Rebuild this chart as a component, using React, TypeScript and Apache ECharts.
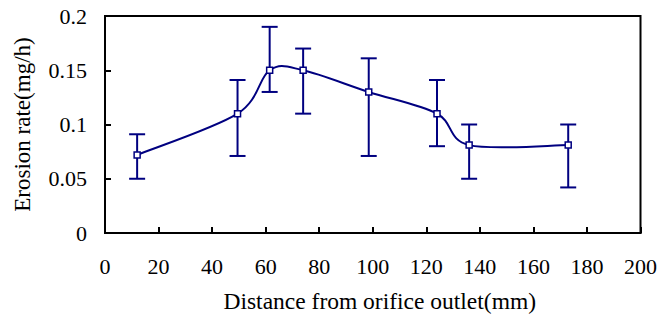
import React, { useEffect, useRef } from "react";
import * as echarts from "echarts";

const xValues = [12, 49.5, 61.5, 74, 98.5, 124, 136, 173];
const yValues = [0.072, 0.11, 0.15, 0.15, 0.13, 0.11, 0.081, 0.081];
const errLow = [0.05, 0.071, 0.13, 0.11, 0.071, 0.08, 0.05, 0.042];
const errHigh = [0.091, 0.141, 0.19, 0.17, 0.161, 0.141, 0.1, 0.1];

const xTitle = "Distance from orifice outlet(mm)";
const yTitle = "Erosion rate(mg/h)";

const NAVY = "#000080";
const FONT = "Liberation Serif";

export default function App() {
  const ref = useRef<HTMLDivElement>(null);
  useEffect(() => {
    if (!ref.current) return;
    const chart = echarts.init(ref.current, undefined, { renderer: "svg" });
    const pointData = xValues.map((x, i) => [x, yValues[i]]);
    const errData = xValues.map((x, i) => [x, errLow[i], errHigh[i]]);
    const n = xValues.length;
    chart.setOption({
      animation: false,
      backgroundColor: "#fff",
      grid: {
        left: 105,
        top: 16,
        right: 19,
        bottom: 92,
        show: true,
        borderColor: "#000",
        borderWidth: 2,
        backgroundColor: "transparent",
      },
      xAxis: {
        type: "value",
        min: 0,
        max: 200,
        interval: 20,
        name: xTitle,
        nameLocation: "middle",
        nameGap: 56,
        nameTextStyle: { fontFamily: FONT, fontSize: 23.5, color: "#000", padding: [0, 0, 0, 14] },
        axisLine: { show: true, lineStyle: { color: "#000", width: 2 } },
        axisTick: { show: true, inside: true, length: 6, lineStyle: { color: "#000", width: 2 } },
        axisLabel: { fontFamily: FONT, fontSize: 22, color: "#000", margin: 22 },
        splitLine: { show: false },
      },
      yAxis: {
        type: "value",
        min: 0,
        max: 0.2,
        interval: 0.05,
        name: yTitle,
        nameLocation: "middle",
        nameGap: 71,
        nameRotate: 90,
        nameTextStyle: { fontFamily: FONT, fontSize: 23, color: "#000" },
        axisLine: { show: true, lineStyle: { color: "#000", width: 2 } },
        axisTick: { show: true, inside: true, length: 6, lineStyle: { color: "#000", width: 2 } },
        axisLabel: { fontFamily: FONT, fontSize: 22, color: "#000", margin: 18 },
        splitLine: { show: false },
      },
      series: [
        {
          type: "custom",
          data: errData,
          encode: { x: 0, y: [1, 2] },
          z: 2,
          renderItem: (params: any, api: any) => {
            const x = api.value(0);
            const lo = api.coord([x, api.value(1)]);
            const hi = api.coord([x, api.value(2)]);
            const hw = 8;
            const style = { stroke: NAVY, lineWidth: 2 };
            return {
              type: "group",
              children: [
                { type: "line", shape: { x1: lo[0], y1: lo[1], x2: hi[0], y2: hi[1] }, style },
                { type: "line", shape: { x1: lo[0] - hw, y1: lo[1], x2: lo[0] + hw, y2: lo[1] }, style },
                { type: "line", shape: { x1: hi[0] - hw, y1: hi[1], x2: hi[0] + hw, y2: hi[1] }, style },
              ],
            };
          },
        },
        {
          type: "custom",
          data: pointData,
          encode: { x: 0, y: 1 },
          z: 3,
          renderItem: (params: any, api: any) => {
            const i = params.dataIndex;
            if (i >= n - 1) return { type: "group", children: [] };
            const P = (j: number) => {
              const k = Math.max(0, Math.min(n - 1, j));
              return api.coord([xValues[k], yValues[k]]);
            };
            const p0 = P(i - 1);
            const p1 = P(i);
            const p2 = P(i + 1);
            const p3 = P(i + 2);
            const c1x = p1[0] + (p2[0] - p0[0]) / 6;
            const c1y = p1[1] + (p2[1] - p0[1]) / 6;
            const c2x = p2[0] - (p3[0] - p1[0]) / 6;
            const c2y = p2[1] - (p3[1] - p1[1]) / 6;
            return {
              type: "bezierCurve",
              shape: { x1: p1[0], y1: p1[1], cpx1: c1x, cpy1: c1y, cpx2: c2x, cpy2: c2y, x2: p2[0], y2: p2[1] },
              style: { stroke: NAVY, lineWidth: 2, fill: "none" },
            };
          },
        },
        {
          type: "scatter",
          data: pointData,
          z: 4,
          symbol: "rect",
          symbolSize: 6,
          itemStyle: { color: "#fff", borderColor: NAVY, borderWidth: 1.5, opacity: 1 },
        },
      ],
    });
    return () => chart.dispose();
  }, []);
  return (
    <div
      ref={ref}
      style={{ position: "absolute", left: 0, top: 0, width: 660, height: 325, background: "#fff" }}
    />
  );
}
